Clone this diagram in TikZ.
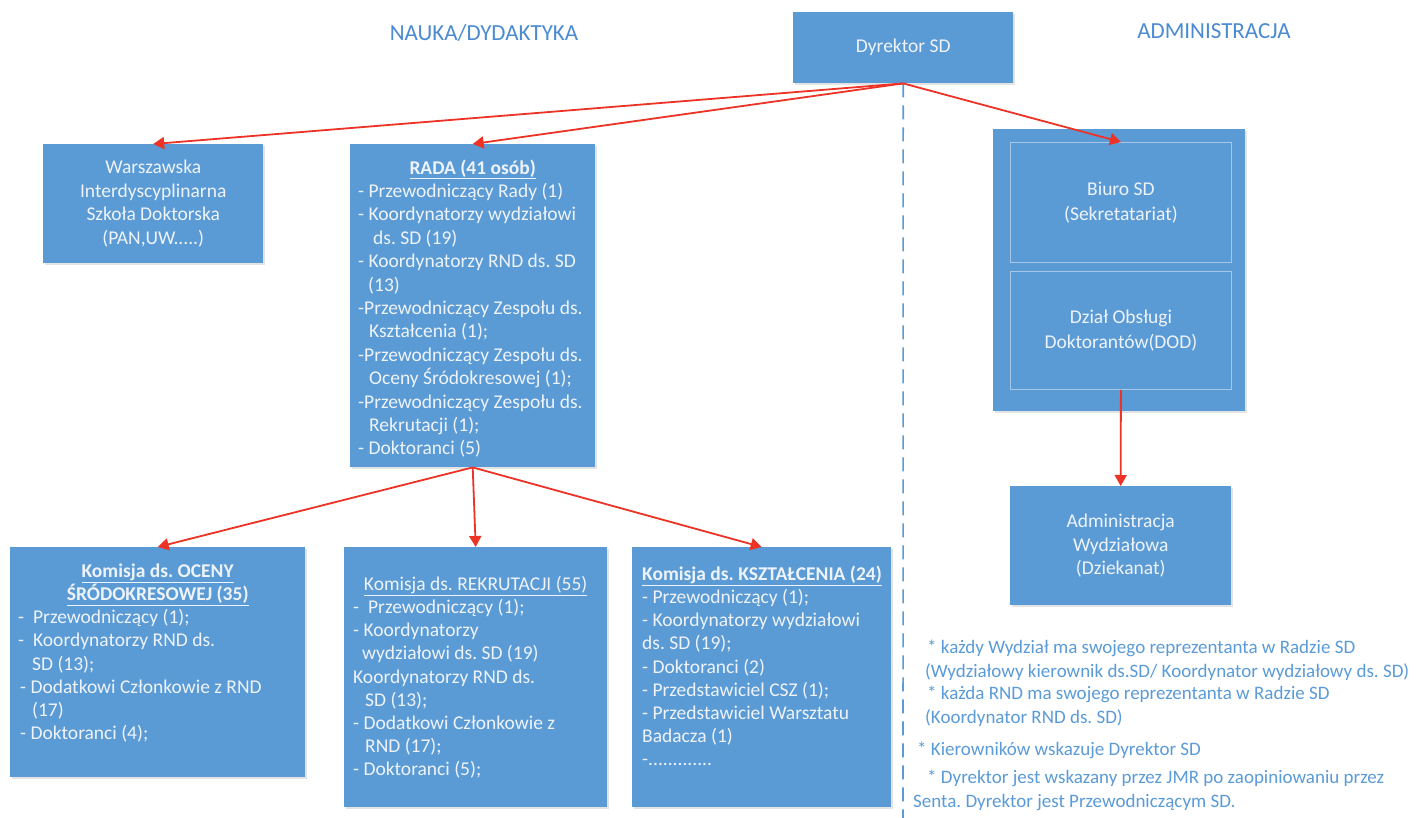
\documentclass[tikz,border=0pt]{standalone}
\usepackage{fontspec}
\setmainfont{Carlito}
\usetikzlibrary{arrows.meta,shadows}
\definecolor{sdblue}{HTML}{5B9BD5}
\definecolor{boxtext}{HTML}{EEF3FA}
\definecolor{arrowred}{HTML}{EC3326}
\definecolor{headblue}{HTML}{4A8BD2}
\definecolor{noteblue}{HTML}{5A9BD8}
\newcommand\rozmiar[2]{\fontsize{#1}{#2}\selectfont\frenchspacing}
\begin{document}
\begin{tikzpicture}[x=1pt,y=-1pt,
    blok/.style={fill=sdblue, text=boxtext, inner sep=0pt, anchor=north west,
      drop shadow={shadow xshift=1.5pt, shadow yshift=-2pt, opacity=0.22}},
    srodek/.style={blok, align=flush center, font=\rozmiar{19.5}{23.5}},
    lista/.style={blok, align=flush left, font=\rozmiar{19.5}{23.2}},
    wnetrze/.style={fill=sdblue, draw=white!45!sdblue, line width=0.8pt, text=boxtext,
      inner sep=0pt, anchor=north west, align=flush center, font=\rozmiar{19.5}{25}},
    strzalka/.style={draw=arrowred, line width=1.8pt, -{Triangle[length=11pt,width=12pt]}},
    podzial/.style={draw=sdblue, line width=1.6pt, dash pattern=on 14pt off 8pt},
    naglowek/.style={text=headblue, font=\rozmiar{23}{27}},
    uwaga/.style={text=noteblue, anchor=base west, align=flush left, inner sep=0pt, font=\rozmiar{19}{23.5}}]
\fill[white] (0,0) rectangle (1426,818);
\useasboundingbox (0,0) rectangle (1426,818);

\node[naglowek] (nauka) at (484,33) {NAUKA/DYDAKTYKA};
\node[naglowek] (admintyt) at (1214,31) {ADMINISTRACJA};

\coordinate (dol) at (903,818);
\node[srodek, minimum width=220pt, minimum height=71pt] (dyrektor) at (793,12) {Dyrektor SD};
\draw[podzial] (dyrektor.south) -- (dol);

\node[srodek, minimum width=220pt, minimum height=119pt] (wisd) at (43,144)
  {Warszawska\\Interdyscyplinarna\\Szkoła Doktorska\\(PAN,UW.....)};

\node[lista, font=\rozmiar{19.5}{23.4}, inner xsep=8pt, text width=229pt,
      text height=30pt, text depth=293pt] (rada) at (350,144) {%
  \makebox[\linewidth]{\underline{\textbf{RADA (41 osób)}}}\\
  - Przewodniczący Rady (1)\\
  - Koordynatorzy wydziałowi\\
  \hspace*{15pt}ds. SD (19)\\
  - Koordynatorzy RND ds. SD\\
  \hspace*{10pt}(13)\\
  -Przewodniczący Zespołu ds.\\
  \hspace*{11pt}Kształcenia (1);\\
  -Przewodniczący Zespołu ds.\\
  \hspace*{11pt}Oceny Śródokresowej (1);\\
  -Przewodniczący Zespołu ds.\\
  \hspace*{11pt}Rekrutacji (1);\\
  - Doktoranci (5)};

\node[lista, inner xsep=8pt, text width=279pt, text height=30pt, text depth=200pt] (ocena) at (10,547) {%
  \makebox[\linewidth]{\underline{\textbf{Komisja ds. OCENY}}}\\
  \makebox[\linewidth]{\underline{\textbf{ŚRÓDOKRESOWEJ (35)}}}\\
  -\hspace*{9pt}Przewodniczący (1);\\
  -\hspace*{9pt}Koordynatorzy RND ds.\\
  \hspace*{14pt}SD (13);\\
  \hspace*{2pt}- Dodatkowi Członkowie z RND\\
  \hspace*{14pt}(17)\\
  \hspace*{2pt}- Doktoranci (4);};

\node[lista, inner xsep=9pt, text width=245pt, text height=43pt, text depth=217pt] (rekrut) at (344,547) {%
  \makebox[\linewidth]{\underline{Komisja ds. REKRUTACJI (55)}}\\
  -\hspace*{9pt}Przewodniczący (1);\\
  - Koordynatorzy\\
  \hspace*{9pt}wydziałowi ds. SD (19)\\
  Koordynatorzy RND ds.\\
  \hspace*{12pt}SD (13);\\
  - Dodatkowi Członkowie z\\
  \hspace*{12pt}RND (17);\\
  - Doktoranci (5);};

\node[lista, inner xsep=10pt, text width=239pt, text height=33pt, text depth=227pt] (ksztal) at (632,547) {%
  \underline{\textbf{Komisja ds. KSZTAŁCENIA (24)}}\\
  - Przewodniczący (1);\\
  - Koordynatorzy wydziałowi\\
  ds. SD (19);\\
  - Doktoranci (2)\\
  - Przedstawiciel CSZ (1);\\
  - Przedstawiciel Warsztatu\\
  Badacza (1)\\
  -.............};

\node[blok, minimum width=252pt, minimum height=282pt] (admin) at (993,129) {};
\node[wnetrze, minimum width=221pt, minimum height=120pt] (biuro) at (1010,142) {Biuro SD\\(Sekretatariat)};
\node[wnetrze, minimum width=221pt, minimum height=118pt] (dod) at (1010,271) {Dział Obsługi\\Doktorantów(DOD)};
\node[srodek, minimum width=221pt, minimum height=119pt] (dziekanat) at (1010,486)
  {Administracja\\Wydziałowa\\(Dziekanat)};

\draw[strzalka] (dyrektor.south) -- (wisd.north);
\draw[strzalka] (dyrektor.south) -- (rada.north);
\draw[strzalka] (dyrektor.south) -- (biuro.north);
\draw[strzalka] (rada.south) -- (ocena.north);
\draw[strzalka] (rada.south) -- (rekrut.north);
\draw[strzalka] (rada.south) -- (ksztal.north);
\draw[strzalka] (dod.south) -- (dziekanat.north);

\node[uwaga] (uwaga1) at (925,677) {\hspace*{2pt}* każdy Wydział ma swojego reprezentanta w Radzie SD\\(Wydziałowy kierownik ds.SD/ Koordynator wydziałowy ds. SD)};
\node[uwaga] (uwaga2) at (925,723) {\hspace*{2pt}* każda RND ma swojego reprezentanta w Radzie SD\\(Koordynator RND ds. SD)};
\node[uwaga] (uwaga3) at (917,755) {* Kierowników wskazuje Dyrektor SD};
\node[uwaga] (uwaga4) at (913,807) {\hspace*{14pt}* Dyrektor jest wskazany przez JMR po zaopiniowaniu przez\\Senta. Dyrektor jest Przewodniczącym SD.};
\end{tikzpicture}
\end{document}
